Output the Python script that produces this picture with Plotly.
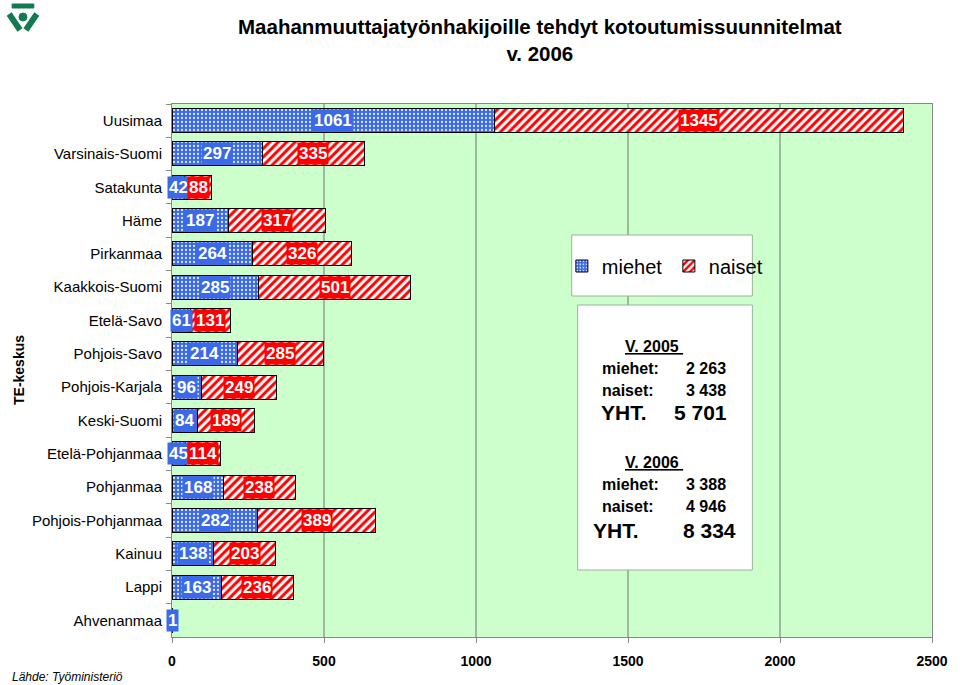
import plotly.graph_objects as go

categories = ["Uusimaa", "Varsinais-Suomi", "Satakunta", "Häme", "Pirkanmaa",
              "Kaakkois-Suomi", "Etelä-Savo", "Pohjois-Savo", "Pohjois-Karjala",
              "Keski-Suomi", "Etelä-Pohjanmaa", "Pohjanmaa", "Pohjois-Pohjanmaa",
              "Kainuu", "Lappi", "Ahvenanmaa"]
miehet = [1061, 297, 42, 187, 264, 285, 61, 214, 96, 84, 45, 168, 282, 138, 163, 1]
naiset = [1345, 335, 88, 317, 326, 501, 131, 285, 249, 189, 114, 238, 389, 203, 236, 0]
x_ticks = [0, 500, 1000, 1500, 2000, 2500]

summary_2005 = [("miehet:", "2 263"), ("naiset:", "3 438"), ("YHT.", "5 701")]
summary_2006 = [("miehet:", "3 388"), ("naiset:", "4 946"), ("YHT.", "8 334")]

W, H = 960, 685
L, R, T, B = 172, 18, 104, 48
PW, PH = W - L - R, H - T - B


def px(x):
    return (x - L) / PW


def py(y):
    return (H - B - y) / PH


BLUE = "#3A6AE8"
RED = "#FF0000"
GREEN = "#127A50"
FONT = "Liberation Sans, Arial, sans-serif"

fig = go.Figure()
fig.add_trace(go.Bar(
    y=categories, x=miehet, orientation="h", name="miehet",
    marker=dict(color=BLUE, line=dict(color="black", width=1),
                pattern=dict(shape=".", fillmode="replace", bgcolor=BLUE,
                             fgcolor="#DDE6FF", size=4, solidity=0.25)),
))
fig.add_trace(go.Bar(
    y=categories, x=naiset, orientation="h", name="naiset",
    marker=dict(color=RED, line=dict(color="black", width=1),
                pattern=dict(shape="/", fillmode="replace", bgcolor="white",
                             fgcolor=RED, size=6, solidity=0.5)),
))

annotations = []
for c, m, n in zip(categories, miehet, naiset):
    if m > 0:
        annotations.append(dict(x=m / 2, y=c, xref="x", yref="y", text=str(m),
                                showarrow=False, bgcolor=BLUE, borderpad=1,
                                font=dict(family=FONT, size=17, color="white", weight="bold")))
    if n > 0:
        annotations.append(dict(x=m + n / 2, y=c, xref="x", yref="y", text=str(n),
                                showarrow=False, bgcolor=RED, borderpad=1,
                                font=dict(family=FONT, size=17, color="white", weight="bold")))

# Title
annotations.append(dict(x=px(545), y=py(40), xref="paper", yref="paper",
                        text="<b>Maahanmuuttajatyönhakijoille tehdyt kotoutumissuunnitelmat<br>v. 2006</b>",
                        showarrow=False, xanchor="center", yanchor="middle",
                        font=dict(family="Liberation Sans Narrow, Arial Narrow, Liberation Sans, sans-serif",
                                  size=20.5, color="black")))
# Y axis title
annotations.append(dict(x=px(17), y=py(370), xref="paper", yref="paper", text="<b>TE-keskus</b>",
                        showarrow=False, textangle=-90, xanchor="center", yanchor="middle",
                        font=dict(family=FONT, size=14, color="black")))
# Source
annotations.append(dict(x=px(8), y=py(677), xref="paper", yref="paper", text="<i>Lähde: Työministeriö</i>",
                        showarrow=False, xanchor="left", yanchor="middle",
                        font=dict(family=FONT, size=12, color="black")))


def add_summary(year, rows, y_head, ys, big_x_label, big_x_val):
    annotations.append(dict(x=px(660), y=py(y_head), xref="paper", yref="paper",
                            text="<b><u>V. " + year + " </u></b>", showarrow=False,
                            xanchor="center", yanchor="middle",
                            font=dict(family=FONT, size=16, color="black")))
    for (lab, val), yy in zip(rows, ys):
        big = lab == "YHT."
        size = 21 if big else 16
        annotations.append(dict(x=px(big_x_label if big else 606), y=py(yy), xref="paper", yref="paper",
                                text="<b>" + lab + "</b>", showarrow=False, xanchor="left", yanchor="middle",
                                font=dict(family=FONT, size=size, color="black")))
        annotations.append(dict(x=px(big_x_val if big else 735), y=py(yy), xref="paper", yref="paper",
                                text="<b>" + val + "</b>", showarrow=False, xanchor="right", yanchor="middle",
                                font=dict(family=FONT, size=size, color="black")))


add_summary("2005", summary_2005, 346, [368, 390, 413], 605, 736)
add_summary("2006", summary_2006, 462, [484, 506, 530], 597, 745)

shapes = [
    # legend box
    dict(type="rect", xref="paper", yref="paper", x0=px(577), x1=px(760), y0=py(296), y1=py(235),
         fillcolor="white", line=dict(color="#99B399", width=1), layer="above"),
    # summary box
    dict(type="rect", xref="paper", yref="paper", x0=px(583), x1=px(760), y0=py(570), y1=py(305),
         fillcolor="white", line=dict(color="#99B399", width=1), layer="above"),
    # logo
    dict(type="rect", xref="paper", yref="paper", x0=px(10), x1=px(32), y0=py(8), y1=py(4),
         fillcolor=GREEN, line=dict(color=GREEN, width=1)),
    dict(type="circle", xref="paper", yref="paper", x0=px(17), x1=px(25), y0=py(21), y1=py(13),
         fillcolor=GREEN, line=dict(color=GREEN, width=1)),
    dict(type="line", xref="paper", yref="paper", x0=px(7), x1=px(18), y0=py(14), y1=py(30),
         line=dict(color=GREEN, width=6)),
    dict(type="line", xref="paper", yref="paper", x0=px(35), x1=px(24), y0=py(14), y1=py(30),
         line=dict(color=GREEN, width=6)),
]

fig.update_layout(
    width=W, height=H,
    margin=dict(l=L, r=R, t=T, b=B),
    paper_bgcolor="white", plot_bgcolor="#CCFFCC",
    barmode="stack", bargap=0.28,
    font=dict(family=FONT, color="black"),
    showlegend=True,
    legend=dict(orientation="h", x=px(567), y=py(266), xanchor="left", yanchor="middle",
                bgcolor="rgba(0,0,0,0)", borderwidth=0, traceorder="normal",
                font=dict(family=FONT, size=20, color="black"),
                itemwidth=30, entrywidth=62, entrywidthmode="pixels"),
    xaxis=dict(range=[0, 2500], tickvals=x_ticks, showgrid=True, gridcolor="#9DB89D", gridwidth=1.5,
               ticks="outside", ticklen=5, tickcolor="#888888",
               tickfont=dict(family=FONT, size=14, color="black", weight="bold"),
               showline=True, linecolor="#888888", mirror=True, zeroline=False,
               ticklabelstandoff=6),
    yaxis=dict(type="category", autorange="reversed", showgrid=False,
               ticks="outside", ticklen=5, tickcolor="#888888", tickson="boundaries",
               tickfont=dict(family=FONT, size=15, color="black"),
               showline=True, linecolor="#888888", mirror=True, ticklabelstandoff=6),
    annotations=annotations,
    shapes=shapes,
)

fig.write_html("out.html")
